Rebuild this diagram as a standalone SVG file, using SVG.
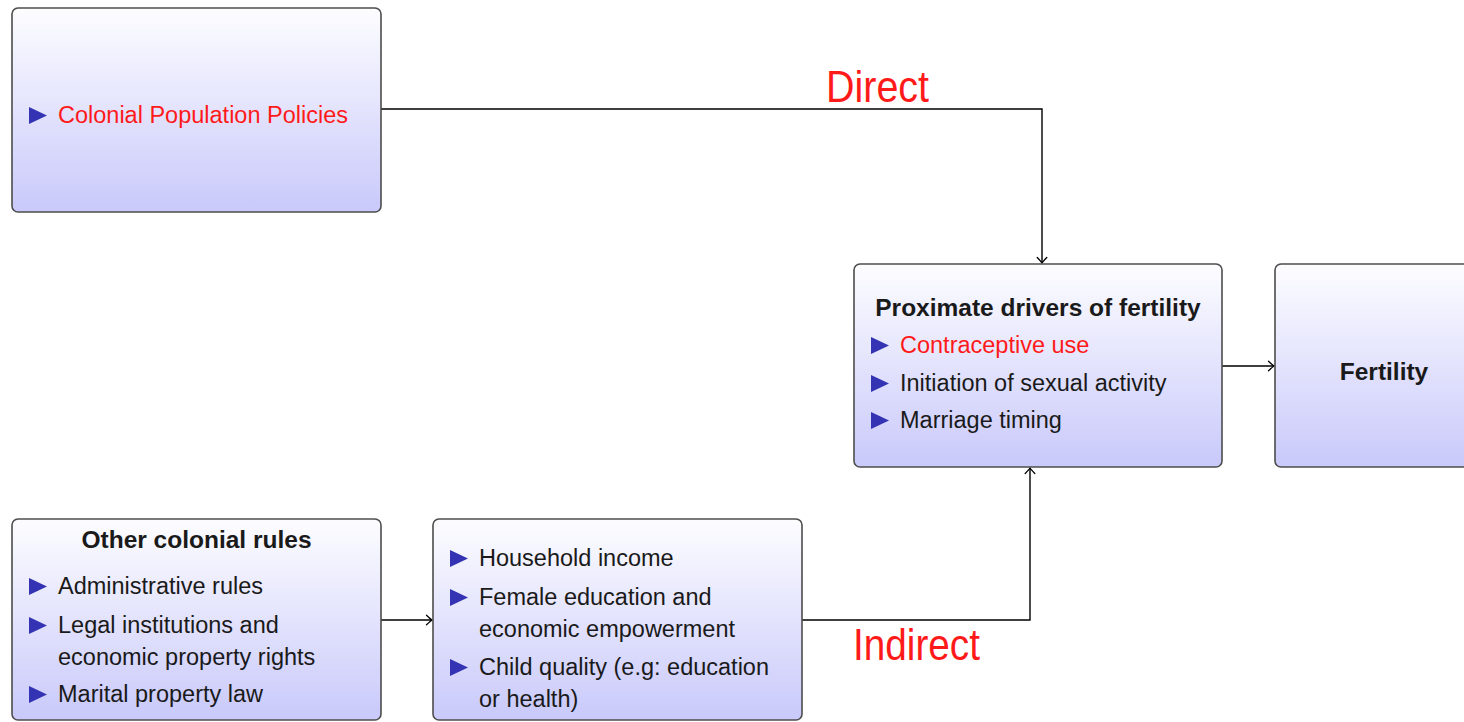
<svg xmlns="http://www.w3.org/2000/svg" width="1464" height="722" viewBox="0 0 1464 722">
<defs>
<linearGradient id="g" x1="0" y1="0" x2="0" y2="1">
<stop offset="0" stop-color="#fdfdff"/>
<stop offset="1" stop-color="#c9c9fb"/>
</linearGradient>
<marker id="arr" markerUnits="userSpaceOnUse" markerWidth="14" markerHeight="14" viewBox="-8 -7 10 14" refX="0" refY="0" orient="auto">
<path d="M-5.5,-4.8 Q-1.5,-1 0,0 Q-1.5,1 -5.5,4.8" fill="none" stroke="#000" stroke-width="1.3" stroke-linecap="round"/>
</marker>
<path id="tri" d="M-1,-16 L17,-7.5 L-1,1 Z"/>
</defs>
<style>
.box{fill:url(#g);stroke:#4d4d4d;stroke-width:1.6}
.t{font-family:"Liberation Sans",Arial,sans-serif;font-size:23.5px;fill:#1a1a1a}
.b{font-weight:bold;text-anchor:middle;font-size:24.5px}
.red{fill:#ff1a1a}
.lab{font-family:"Liberation Sans",Arial,sans-serif;font-size:44px;fill:#ff1a1a}
.bul{fill:#3333b3}
.con{fill:none;stroke:#000;stroke-width:1.4;marker-end:url(#arr)}
</style>
<g id="connectors">
<path class="con" d="M381,109 H1042 V263"/>
<path class="con" d="M1222,366 H1274"/>
<path class="con" d="M381,620 H432"/>
<path class="con" d="M802,620 H1030 V468"/>
<text class="lab" x="826" y="102" textLength="103" lengthAdjust="spacingAndGlyphs">Direct</text>
<text class="lab" x="853" y="660" textLength="127" lengthAdjust="spacingAndGlyphs">Indirect</text>
</g>
<g id="colonial-population-policies">
<rect class="box" x="12" y="8" width="369" height="204" rx="6"/>
<use href="#tri" class="bul" x="30" y="123"/>
<text class="t red" x="58" y="123">Colonial Population Policies</text>
</g>
<g id="proximate-drivers">
<rect class="box" x="854" y="264" width="368" height="203" rx="6"/>
<text class="t b" x="1038" y="316">Proximate drivers of fertility</text>
<use href="#tri" class="bul" x="872" y="353"/>
<text class="t red" x="900" y="353">Contraceptive use</text>
<use href="#tri" class="bul" x="872" y="391"/>
<text class="t" x="900" y="391">Initiation of sexual activity</text>
<use href="#tri" class="bul" x="872" y="428"/>
<text class="t" x="900" y="428">Marriage timing</text>
</g>
<g id="fertility">
<rect class="box" x="1275" y="264" width="218" height="203" rx="6"/>
<text class="t b" x="1384" y="380">Fertility</text>
</g>
<g id="other-colonial-rules">
<rect class="box" x="12" y="519" width="369" height="201" rx="6"/>
<text class="t b" x="196.5" y="548">Other colonial rules</text>
<use href="#tri" class="bul" x="30" y="594"/>
<text class="t" x="58" y="594">Administrative rules</text>
<use href="#tri" class="bul" x="30" y="633"/>
<text class="t" x="58" y="633">Legal institutions and</text>
<text class="t" x="58" y="665">economic property rights</text>
<use href="#tri" class="bul" x="30" y="702"/>
<text class="t" x="58" y="702">Marital property law</text>
</g>
<g id="mechanisms">
<rect class="box" x="433" y="519" width="369" height="201" rx="6"/>
<use href="#tri" class="bul" x="451" y="566"/>
<text class="t" x="479" y="566">Household income</text>
<use href="#tri" class="bul" x="451" y="605"/>
<text class="t" x="479" y="605">Female education and</text>
<text class="t" x="479" y="637">economic empowerment</text>
<use href="#tri" class="bul" x="451" y="675"/>
<text class="t" x="479" y="675">Child quality (e.g: education</text>
<text class="t" x="479" y="707">or health)</text>
</g>
</svg>
